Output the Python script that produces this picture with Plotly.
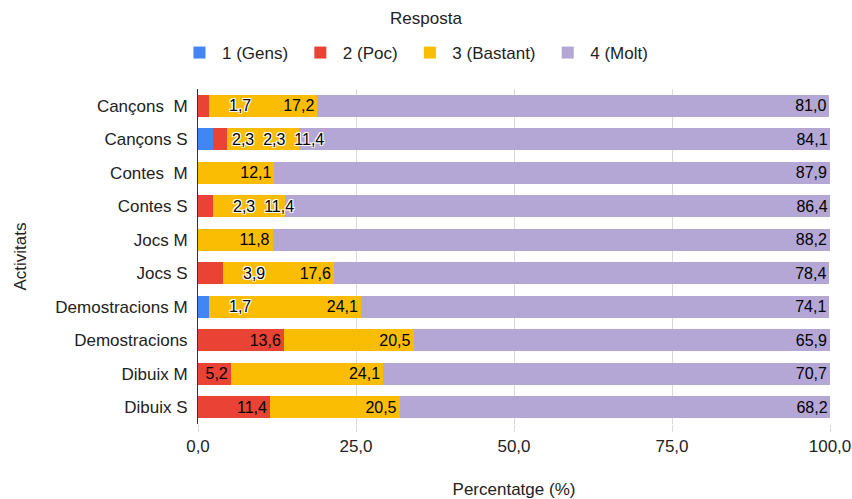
import plotly.graph_objects as go

categories = ["Cançons \u00a0M", "Cançons S", "Contes \u00a0M", "Contes S", "Jocs M", "Jocs S",
              "Demostracions M", "Demostracions", "Dibuix M", "Dibuix S"]
gens = [0, 2.3, 0, 0, 0, 0, 1.7, 0, 0, 0]
poc = [1.7, 2.3, 0, 2.3, 0, 3.9, 0, 13.6, 5.2, 11.4]
bastant = [17.2, 11.4, 12.1, 11.4, 11.8, 17.6, 24.1, 20.5, 24.1, 20.5]
molt = [81.0, 84.1, 87.9, 86.4, 88.2, 78.4, 74.1, 65.9, 70.7, 68.2]

series = [("1 (Gens)", gens, "#4285F4"), ("2 (Poc)", poc, "#EA4335"),
          ("3 (Bastant)", bastant, "#FBBC04"), ("4 (Molt)", molt, "#B4A7D6")]
tick_vals = [0, 25, 50, 75, 100]
tick_text = ["0,0", "25,0", "50,0", "75,0", "100,0"]

FONT = "Arial, Liberation Sans, sans-serif"
LBL = 16
SMALL = 5.0
ML, MR, MT, MB = 198, 22, 89, 75
W, H = 852, 499
PX = (W - ML - MR) / 100.0
SHIFT = 18
SEP = "\u00a0\u00a0"


def fmt(v):
    return f"{v:.1f}".replace(".", ",")


def text_w(s):
    w = 0.0
    for ch in s:
        w += 0.278 if ch in ",.\u00a0 " else 0.556
    return w * LBL


# work out which labels go inside the segments and which are drawn beside them
inside = {name: [None] * len(categories) for name, _, _ in series}
annotations = []
halo = "1px 1px 0 #fff, -1px -1px 0 #fff, 1px -1px 0 #fff, -1px 1px 0 #fff, 0 0 2px #fff"
for i, cat in enumerate(categories):
    cum = 0.0
    run_texts, run_end = [], None
    for name, vals, col in series:
        v = vals[i]
        if v <= 0:
            continue
        end = cum + v
        t = fmt(v)
        if v < SMALL:
            run_texts.append(t)
            run_end = end
        else:
            if run_texts:
                ann_end = run_end * PX + SHIFT + text_w(SEP.join(run_texts))
                lbl_start = end * PX - 4 - text_w(t)
                merged = ann_end + 4 > lbl_start
                if merged:
                    run_texts.append(t)
                else:
                    inside[name][i] = t
                annotations.append(dict(
                    x=run_end, y=cat, xref="x", yref="y", text=SEP.join(run_texts),
                    showarrow=False, xanchor="left",
                    xshift=3 if (merged and len(run_texts) > 2) else SHIFT,
                    font=dict(color="#000000", size=LBL, family=FONT, shadow=halo)))
                run_texts = []
            else:
                inside[name][i] = t
        cum = end

fig = go.Figure()
for name, vals, col in series:
    fig.add_trace(go.Bar(
        y=categories, x=vals, name=name + "\u00a0", orientation="h",
        marker=dict(color=col, line=dict(width=0)),
        text=inside[name], textposition="inside", insidetextanchor="end",
        constraintext="none",
        textfont=dict(color="#000000", size=LBL, family=FONT),
        hoverinfo="x+name",
    ))

fig.update_layout(
    barmode="stack", bargap=0.34,
    width=W, height=H,
    margin=dict(l=ML, r=MR, t=MT, b=MB, autoexpand=False),
    paper_bgcolor="white", plot_bgcolor="white",
    font=dict(family=FONT, size=17, color="#222222"),
    title=dict(text="Resposta", x=0.5, xanchor="center", xref="container",
               y=1 - 18 / H, yanchor="middle", yref="container",
               font=dict(size=17, color="#222222", family=FONT)),
    legend=dict(orientation="h", x=0.49, xanchor="center", xref="container",
                y=1 - 53 / H, yanchor="middle", yref="container",
                font=dict(size=17, color="#222222", family=FONT),
                traceorder="normal", itemwidth=35),
    annotations=annotations,
    xaxis=dict(range=[0, 100], tickvals=tick_vals, ticktext=tick_text,
               showgrid=True, gridcolor="#d9d9d9", zeroline=False,
               ticks="outside", ticklen=7, tickcolor="#d9d9d9", automargin=False,
               title=dict(text="Percentatge (%)", standoff=28, font=dict(size=17)),
               tickfont=dict(size=17, color="#222222")),
    yaxis=dict(autorange="reversed", showline=True, linecolor="#333333", linewidth=1,
               ticks="outside", ticklen=6, tickcolor="rgba(0,0,0,0)", automargin=False,
               title=dict(text="Activitats", standoff=24, font=dict(size=17)),
               tickfont=dict(size=17, color="#222222")),
)
fig.write_html("out.html", config={"displayModeBar": False},
               post_script="document.body.style.margin='0';")
